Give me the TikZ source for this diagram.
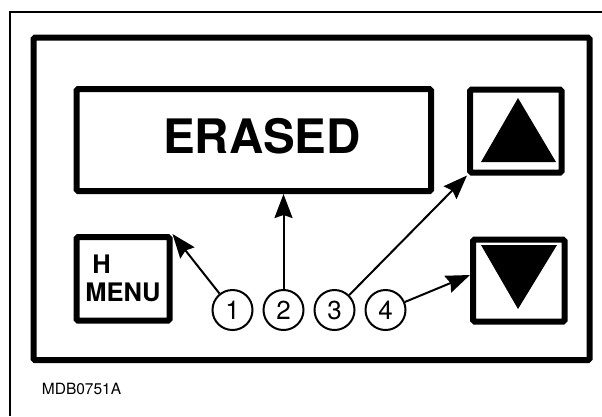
\documentclass[tikz,border=0pt]{standalone}
\usepackage{fontspec}
\setmainfont{TeX Gyre Heros}
\usetikzlibrary{arrows.meta,positioning}

\begin{document}
\begin{tikzpicture}[x=1pt, y=-1pt, node distance=51pt, every node/.style={inner sep=0pt},
   box/.style={draw, line width=6pt, rounded corners=1.5pt},
   num/.style={circle, draw, line width=2pt, minimum size=40pt, font=\fontsize{26}{26}\selectfont},
   pointer/.style={line width=2pt, -{Stealth[length=24pt, width=18pt, inset=3pt]}}]
   \useasboundingbox (0,0) rectangle (602,416);
   \draw[line width=2pt] (602,12) -- (10,12) -- (10,416);
   \node     (panel)  [box, minimum width=556pt, minimum height=322.5pt] at (311.5,198.75) {};
   \node     (screen) [box, minimum width=354.5pt, minimum height=102pt] at (253.75,140) {};
   \node     (erased) [font=\bfseries\fontsize{47.5}{50}\selectfont] at (262,136) {ERASED};
   \node     (hmenu)  [box, minimum width=93pt, minimum height=83.5pt, align=left,
                       font=\bfseries\fontsize{25.5}{28}\selectfont] at (123,278.75) {\hspace*{7pt}H\\MENU};
   \node     (up)     [box, minimum width=91.5pt, minimum height=83pt] at (515.75,131) {};
   \node     (down)   [box, minimum width=91.5pt, minimum height=82pt] at (518.75,280.5) {};
   \fill (518,98) -- (556,162) -- (481,162) -- cycle;
   \fill (481,245) -- (557,245) -- (518,309) -- cycle;
   \node     (c1) [num] at (232.5,310) {1};
   \node     (c2) [num, right of=c1] {2};
   \node     (c3) [num, right of=c2] {3};
   \node     (c4) [num, right of=c3] {4};
   \draw[pointer] (c1) -- (hmenu.north east);
   \draw[pointer] (c2) -- (c2 |- screen.south);
   \draw[pointer] (c3) -- (up.south west);
   \draw[pointer] (c4) -- ([yshift=5.5pt]down.west);
   \node     (code) [anchor=base west, font=\fontsize{15.5}{16}\selectfont] at (41.7,394) {MDB0751A};
\end{tikzpicture}
\end{document}
